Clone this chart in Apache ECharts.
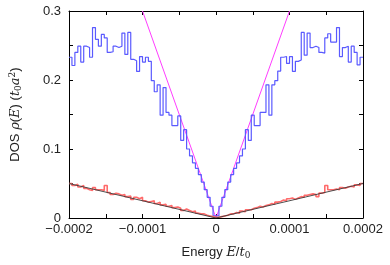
<!DOCTYPE html>
<html><head><meta charset="utf-8">
<script src="https://cdn.jsdelivr.net/npm/echarts@6/dist/echarts.min.js"></script>
<style>html,body{margin:0;padding:0;background:#fff}#c{width:390px;height:265px}</style>
</head><body><div id="c"></div>
<script>
// Histogram bins: left edge of first bin and bin width (energy units)
const binStart = -0.0002;
const binWidth = 0.000004;

// Blue histogram (DOS), 100 bins from -0.0002 to 0.0002
const blueDOS = [
  0.233, 0.221, 0.240, 0.249, 0.226, 0.249, 0.247, 0.233, 0.276, 0.259,
  0.249, 0.266, 0.261, 0.240, 0.241, 0.249, 0.247, 0.249, 0.268, 0.237,
  0.269, 0.230, 0.228, 0.2125, 0.234, 0.226, 0.233, 0.227, 0.199, 0.183,
  0.193, 0.149, 0.189, 0.153, 0.149, 0.134, 0.134, 0.148, 0.1125, 0.128,
  0.100, 0.090, 0.080, 0.072, 0.063, 0.052, 0.041, 0.030, 0.017, 0.003,
  0.003, 0.017, 0.030, 0.041, 0.052, 0.063, 0.072, 0.080, 0.090, 0.100,
  0.128, 0.1125, 0.149, 0.134, 0.134, 0.153, 0.153, 0.193, 0.149, 0.193,
  0.199, 0.213, 0.233, 0.234, 0.224, 0.234, 0.2125, 0.227, 0.229, 0.269,
  0.236, 0.268, 0.247, 0.249, 0.247, 0.240, 0.239, 0.261, 0.267, 0.255,
  0.255, 0.276, 0.234, 0.247, 0.249, 0.226, 0.249, 0.240, 0.222, 0.233
];

// Red histogram (DOS), same bins
const redDOS = [
  0.050, 0.047, 0.049, 0.045, 0.047, 0.043, 0.041, 0.040, 0.044, 0.041,
  0.041, 0.040, 0.047, 0.037, 0.034, 0.036, 0.035, 0.033, 0.034, 0.031,
  0.032, 0.027, 0.030, 0.028, 0.030, 0.025, 0.023, 0.024, 0.025, 0.021,
  0.023, 0.019, 0.020, 0.017, 0.018, 0.015, 0.016, 0.014, 0.011, 0.013,
  0.011, 0.009, 0.010, 0.007, 0.006, 0.006, 0.004, 0.003, 0.002, 0.001,
  0.001, 0.002, 0.003, 0.004, 0.006, 0.006, 0.008, 0.007, 0.010, 0.009,
  0.012, 0.012, 0.014, 0.015, 0.017, 0.016, 0.018, 0.019, 0.021, 0.020,
  0.023, 0.024, 0.026, 0.025, 0.028, 0.029, 0.027, 0.029, 0.031, 0.030,
  0.033, 0.034, 0.035, 0.034, 0.031, 0.036, 0.037, 0.047, 0.041, 0.041,
  0.042, 0.041, 0.044, 0.043, 0.045, 0.046, 0.045, 0.048, 0.047, 0.050
];

// Fitted V-shaped lines
const magentaFit = [[-0.0001, 0.3], [0, 0], [0.0001, 0.3]];
const blackFit = [[-0.0002, 0.05], [0, 0], [0.0002, 0.05]];

// Axis ranges / ticks
const xMin = -0.0002, xMax = 0.0002, xTickStep = 0.00005, xLabelStep = 0.0001;
const yMin = 0, yMax = 0.3, yTickStep = 0.05, yLabelStep = 0.1;

function stepPoints(vals) {
  const pts = [];
  vals.forEach((v, i) => {
    const x0 = binStart + i * binWidth;
    pts.push([x0, v], [x0 + binWidth, v]);
  });
  return pts;
}
function isMultiple(v, step) {
  const r = v / step;
  return Math.abs(r - Math.round(r)) < 1e-6;
}
function fmtX(v) {
  if (!isMultiple(v, xLabelStep)) return '';
  if (Math.abs(v) < 1e-12) return '0';
  return (v < 0 ? '\u2212' : '') + Math.abs(v).toFixed(4);
}
function fmtY(v) {
  if (!isMultiple(v, yLabelStep)) return '';
  if (Math.abs(v) < 1e-12) return '0';
  return v.toFixed(1);
}

const FONT = 'Liberation Sans, Arial, Helvetica, sans-serif';
const axisLine = { show: true, onZero: false, lineStyle: { color: '#000', width: 1 } };
const tick = { show: true, inside: true, length: 4, lineStyle: { color: '#000', width: 1 } };

const chart = echarts.init(document.getElementById('c'), null, { renderer: 'canvas' });
chart.setOption({
  animation: false,
  backgroundColor: '#fff',
  grid: { left: 61, right: 27, top: 11, bottom: 38, containLabel: false },
  xAxis: [{
    type: 'value', min: xMin, max: xMax, interval: xTickStep,
    axisLine, axisTick: tick, splitLine: { show: false },
    axisLabel: { formatter: fmtX, color: '#222', fontSize: 13, fontFamily: FONT, margin: 5, showMinLabel: true, showMaxLabel: true },
    name: '{n|Energy }{i|E}{n|/}{i|t}{s|0}',
    nameLocation: 'middle', nameGap: 27,
    nameTextStyle: {
      rich: {
        n: { fontSize: 13, fontFamily: FONT, color: '#222' },
        i: { fontSize: 13, fontFamily: 'DejaVu Serif, serif', fontStyle: 'italic', color: '#222' },
        s: { fontSize: 9, fontFamily: 'DejaVu Serif, serif', color: '#222', padding: [6, 0, 0, 0] }
      }
    }
  }, {
    type: 'value', min: xMin, max: xMax, interval: xTickStep, position: 'top',
    axisLine, axisTick: tick, axisLabel: { show: false }, splitLine: { show: false }
  }],
  yAxis: [{
    type: 'value', min: yMin, max: yMax, interval: yTickStep,
    axisLine, axisTick: tick, splitLine: { show: false },
    axisLabel: { formatter: fmtY, color: '#222', fontSize: 13, fontFamily: FONT, margin: 8, showMinLabel: true, showMaxLabel: true },
    name: '{n|DOS }{i|ρ}{n|(}{i|E}{n|) (}{i|t}{s|0}{i|a}{p|2}{n|)}',
    nameLocation: 'middle', nameGap: 46, nameRotate: 90,
    nameTextStyle: {
      rich: {
        n: { fontSize: 13, fontFamily: FONT, color: '#222' },
        i: { fontSize: 13, fontFamily: 'DejaVu Serif, serif', fontStyle: 'italic', color: '#222' },
        s: { fontSize: 9, fontFamily: 'DejaVu Serif, serif', color: '#222', padding: [6, 0, 0, 0] },
        p: { fontSize: 9, fontFamily: 'DejaVu Serif, serif', color: '#222', padding: [0, 0, 6, 0] }
      }
    }
  }, {
    type: 'value', min: yMin, max: yMax, interval: yTickStep, position: 'right',
    axisLine, axisTick: tick, axisLabel: { show: false }, splitLine: { show: false }
  }],
  series: [
    { type: 'line', data: magentaFit, showSymbol: false, lineStyle: { color: '#ff3cff', width: 1 }, z: 2 },
    { type: 'line', data: stepPoints(blueDOS), showSymbol: false, lineStyle: { color: '#5a5aff', width: 1.2 }, z: 3 },
    { type: 'line', data: stepPoints(redDOS), showSymbol: false, lineStyle: { color: '#ff6a6a', width: 1.6 }, z: 3 },
    { type: 'line', data: blackFit, showSymbol: false, lineStyle: { color: '#3a3a3a', width: 0.9 }, z: 4 }
  ]
});
</script>
</body></html>
